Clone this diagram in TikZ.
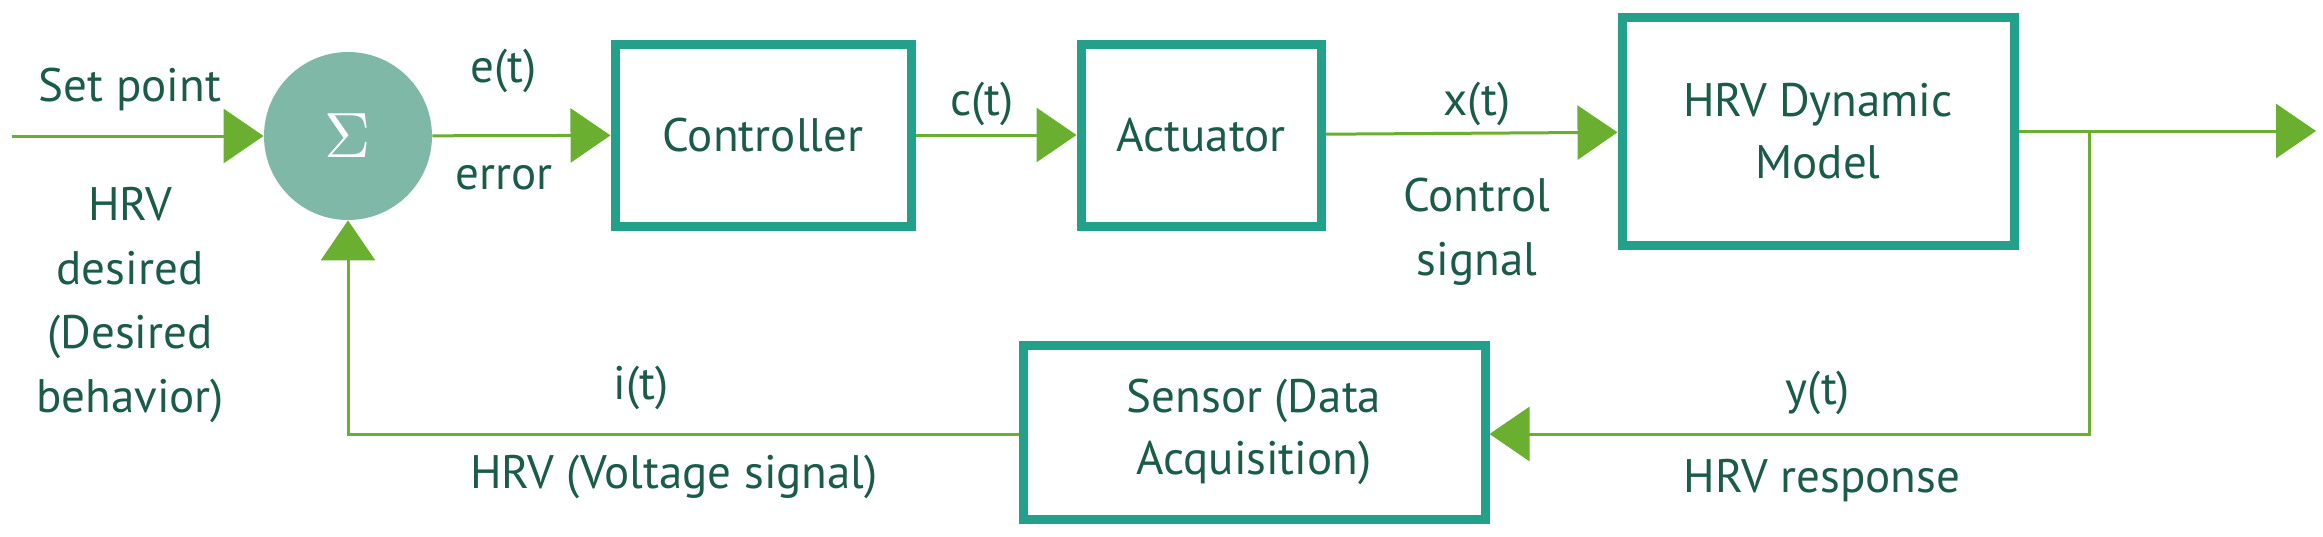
\documentclass[tikz,border=0pt]{standalone}
\usepackage{fontspec}
\setmainfont{PT Sans}
\usepackage{xcolor}
\usetikzlibrary{arrows.meta, positioning, calc}
\definecolor{boxteal}{HTML}{22A08A}
\definecolor{sumfill}{HTML}{80B8A8}
\definecolor{wiregreen}{HTML}{6AAF30}
\definecolor{txtgreen}{HTML}{1A5C48}
\begin{document}
\begin{tikzpicture}[x=0.5pt, y=-0.5pt,
	block/.style = {draw=boxteal, line width=4.5pt, fill=white, align=center, inner sep=0pt,
		text=txtgreen, font=\fontsize{23.5}{31}\selectfont},
	wire/.style = {draw=wiregreen, line width=1.5pt, arrows = {-Triangle[length=20pt, width=27pt]}},
	lbl/.style = {text=txtgreen, align=center, inner sep=0pt, font=\fontsize{23.5}{32}\selectfont}
	]
	\useasboundingbox (0,0) rectangle (2323,536);

	% blocks
	\node (sum) [circle, fill=sumfill, minimum size=84pt, inner sep=0pt, text=white]
		at (348,136) {\scalebox{3.2}{$\Sigma$}};
	\node (ctrl) [block, minimum width=148pt, minimum height=91pt] at (763,135) {Controller};
	\node (act) [block, minimum width=120pt, minimum height=91pt] at (1201,135) {Actuator};
	\node (model) [block, minimum width=196pt, minimum height=114pt] at (1818,131) {HRV Dynamic\\Model};
	\node (sens) [block, minimum width=231pt, minimum height=87pt] at (1254,432) {Sensor (Data\\Acquisition)};

	% free ends
	\coordinate (in) at (12,136);
	\coordinate (out) at (2316,136);
	\coordinate (br) at (2089,131);
	\coordinate (brd) at (2089,434);
	\coordinate (fbl) at (348,434);

	% connectors
	\draw[wire] (in) -- (sum);
	\draw[wire] (sum) -- (ctrl);
	\draw[wire] (ctrl) -- (act);
	\draw[wire] (act) -- (model);
	\draw[wire] (model.east) -- (model.east -| out);
	\draw[wire] (br) -- (brd) -- (sens.east |- brd);
	\draw[wire] (sens.west |- fbl) -- (fbl) -- (sum);

	% labels
	\node (lsp) [lbl] at (130,89) {Set point};
	\node (ldes) [lbl] at (130,305) {HRV\\desired\\(Desired\\behavior)};
	\node (le) [lbl] at (504,71) {e(t)};
	\node (lerr) [lbl] at (504,178) {error};
	\node (lc) [lbl] at (982,104) {c(t)};
	\node (lx) [lbl] at (1477,104) {x(t)};
	\node (lcs) [lbl] at (1477,232) {Control\\signal};
	\node (li) [lbl] at (641,388) {i(t)};
	\node (lv) [lbl] at (674,477) {HRV (Voltage signal)};
	\node (ly) [lbl] at (1818,393) {y(t)};
	\node (lr) [lbl] at (1822,481) {HRV response};
\end{tikzpicture}
\end{document}
